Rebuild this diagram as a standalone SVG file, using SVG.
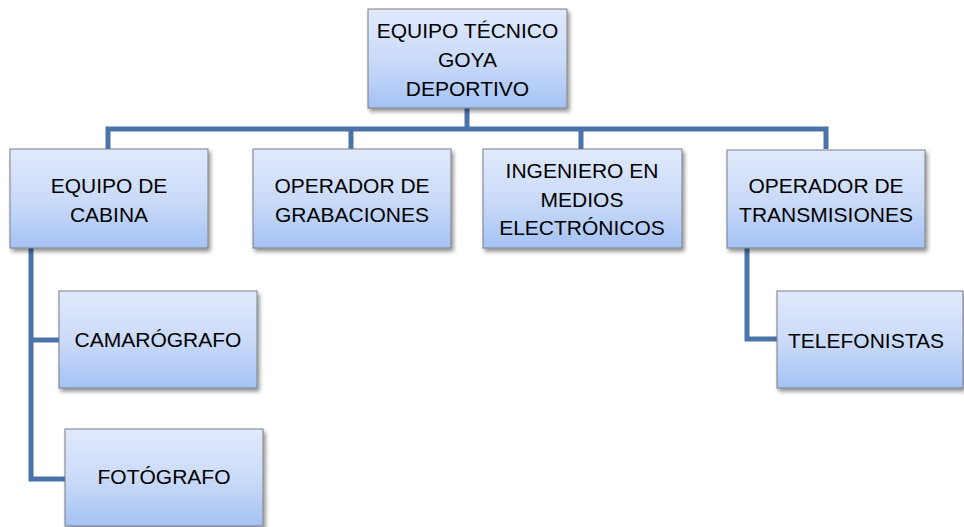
<svg xmlns="http://www.w3.org/2000/svg" width="964" height="527" viewBox="0 0 964 527">
<style>
.box{fill:url(#g);stroke:#7a7f88;stroke-width:1;filter:url(#sh)}
.t{font-family:"Liberation Sans",Arial,sans-serif;font-size:21px;fill:#000;text-anchor:middle}
.c{fill:none;stroke:#4a73a9;stroke-width:5;stroke-linejoin:miter}
</style>
<defs>
<linearGradient id="g" x1="0" y1="0" x2="0" y2="1">
<stop offset="0" stop-color="#e1eafc"/>
<stop offset="0.55" stop-color="#c8d9f8"/>
<stop offset="1" stop-color="#a4c2f4"/>
</linearGradient>
<filter id="sh" x="-10%" y="-10%" width="125%" height="130%">
<feGaussianBlur in="SourceAlpha" stdDeviation="2"/>
<feOffset dx="2" dy="3" result="b"/>
<feComponentTransfer><feFuncA type="linear" slope="0.45"/></feComponentTransfer>
<feMerge><feMergeNode/><feMergeNode in="SourceGraphic"/></feMerge>
</filter>
</defs>
<g id="connectors">
<path class="c" d="M467 108 V129"/>
<path class="c" d="M108 149 V129 H826 V149"/>
<path class="c" d="M351 129 V149"/>
<path class="c" d="M581 129 V149"/>
<path class="c" d="M31 248 V479 H65"/>
<path class="c" d="M31 340 H59"/>
<path class="c" d="M747 248 V339 H777"/>
</g>
<g id="n-top"><rect class="box" x="368" y="9" width="199" height="99"/>
<text class="t" x="467.5" y="38">EQUIPO TÉCNICO</text><text class="t" x="467.5" y="67">GOYA</text><text class="t" x="467.5" y="96">DEPORTIVO</text></g>
<g id="n-cabina"><rect class="box" x="10" y="149" width="198" height="99"/>
<text class="t" x="109" y="193">EQUIPO DE</text><text class="t" x="109" y="222">CABINA</text></g>
<g id="n-grabaciones"><rect class="box" x="253" y="149" width="198" height="99"/>
<text class="t" x="352" y="193">OPERADOR DE</text><text class="t" x="352" y="222">GRABACIONES</text></g>
<g id="n-ingeniero"><rect class="box" x="483" y="149" width="199" height="99"/>
<text class="t" x="582" y="178">INGENIERO EN</text><text class="t" x="582" y="207">MEDIOS</text><text class="t" x="582" y="235">ELECTRÓNICOS</text></g>
<g id="n-transmisiones"><rect class="box" x="727" y="150" width="198" height="98"/>
<text class="t" x="826" y="193">OPERADOR DE</text><text class="t" x="826" y="222">TRANSMISIONES</text></g>
<g id="n-camarografo"><rect class="box" x="59" y="291" width="198" height="97"/>
<text class="t" x="158" y="347">CAMARÓGRAFO</text></g>
<g id="n-fotografo"><rect class="box" x="65" y="429" width="198" height="97"/>
<text class="t" x="164" y="484">FOTÓGRAFO</text></g>
<g id="n-telefonistas"><rect class="box" x="777" y="291" width="186" height="97"/>
<text class="t" x="866" y="348">TELEFONISTAS</text></g>
</svg>
